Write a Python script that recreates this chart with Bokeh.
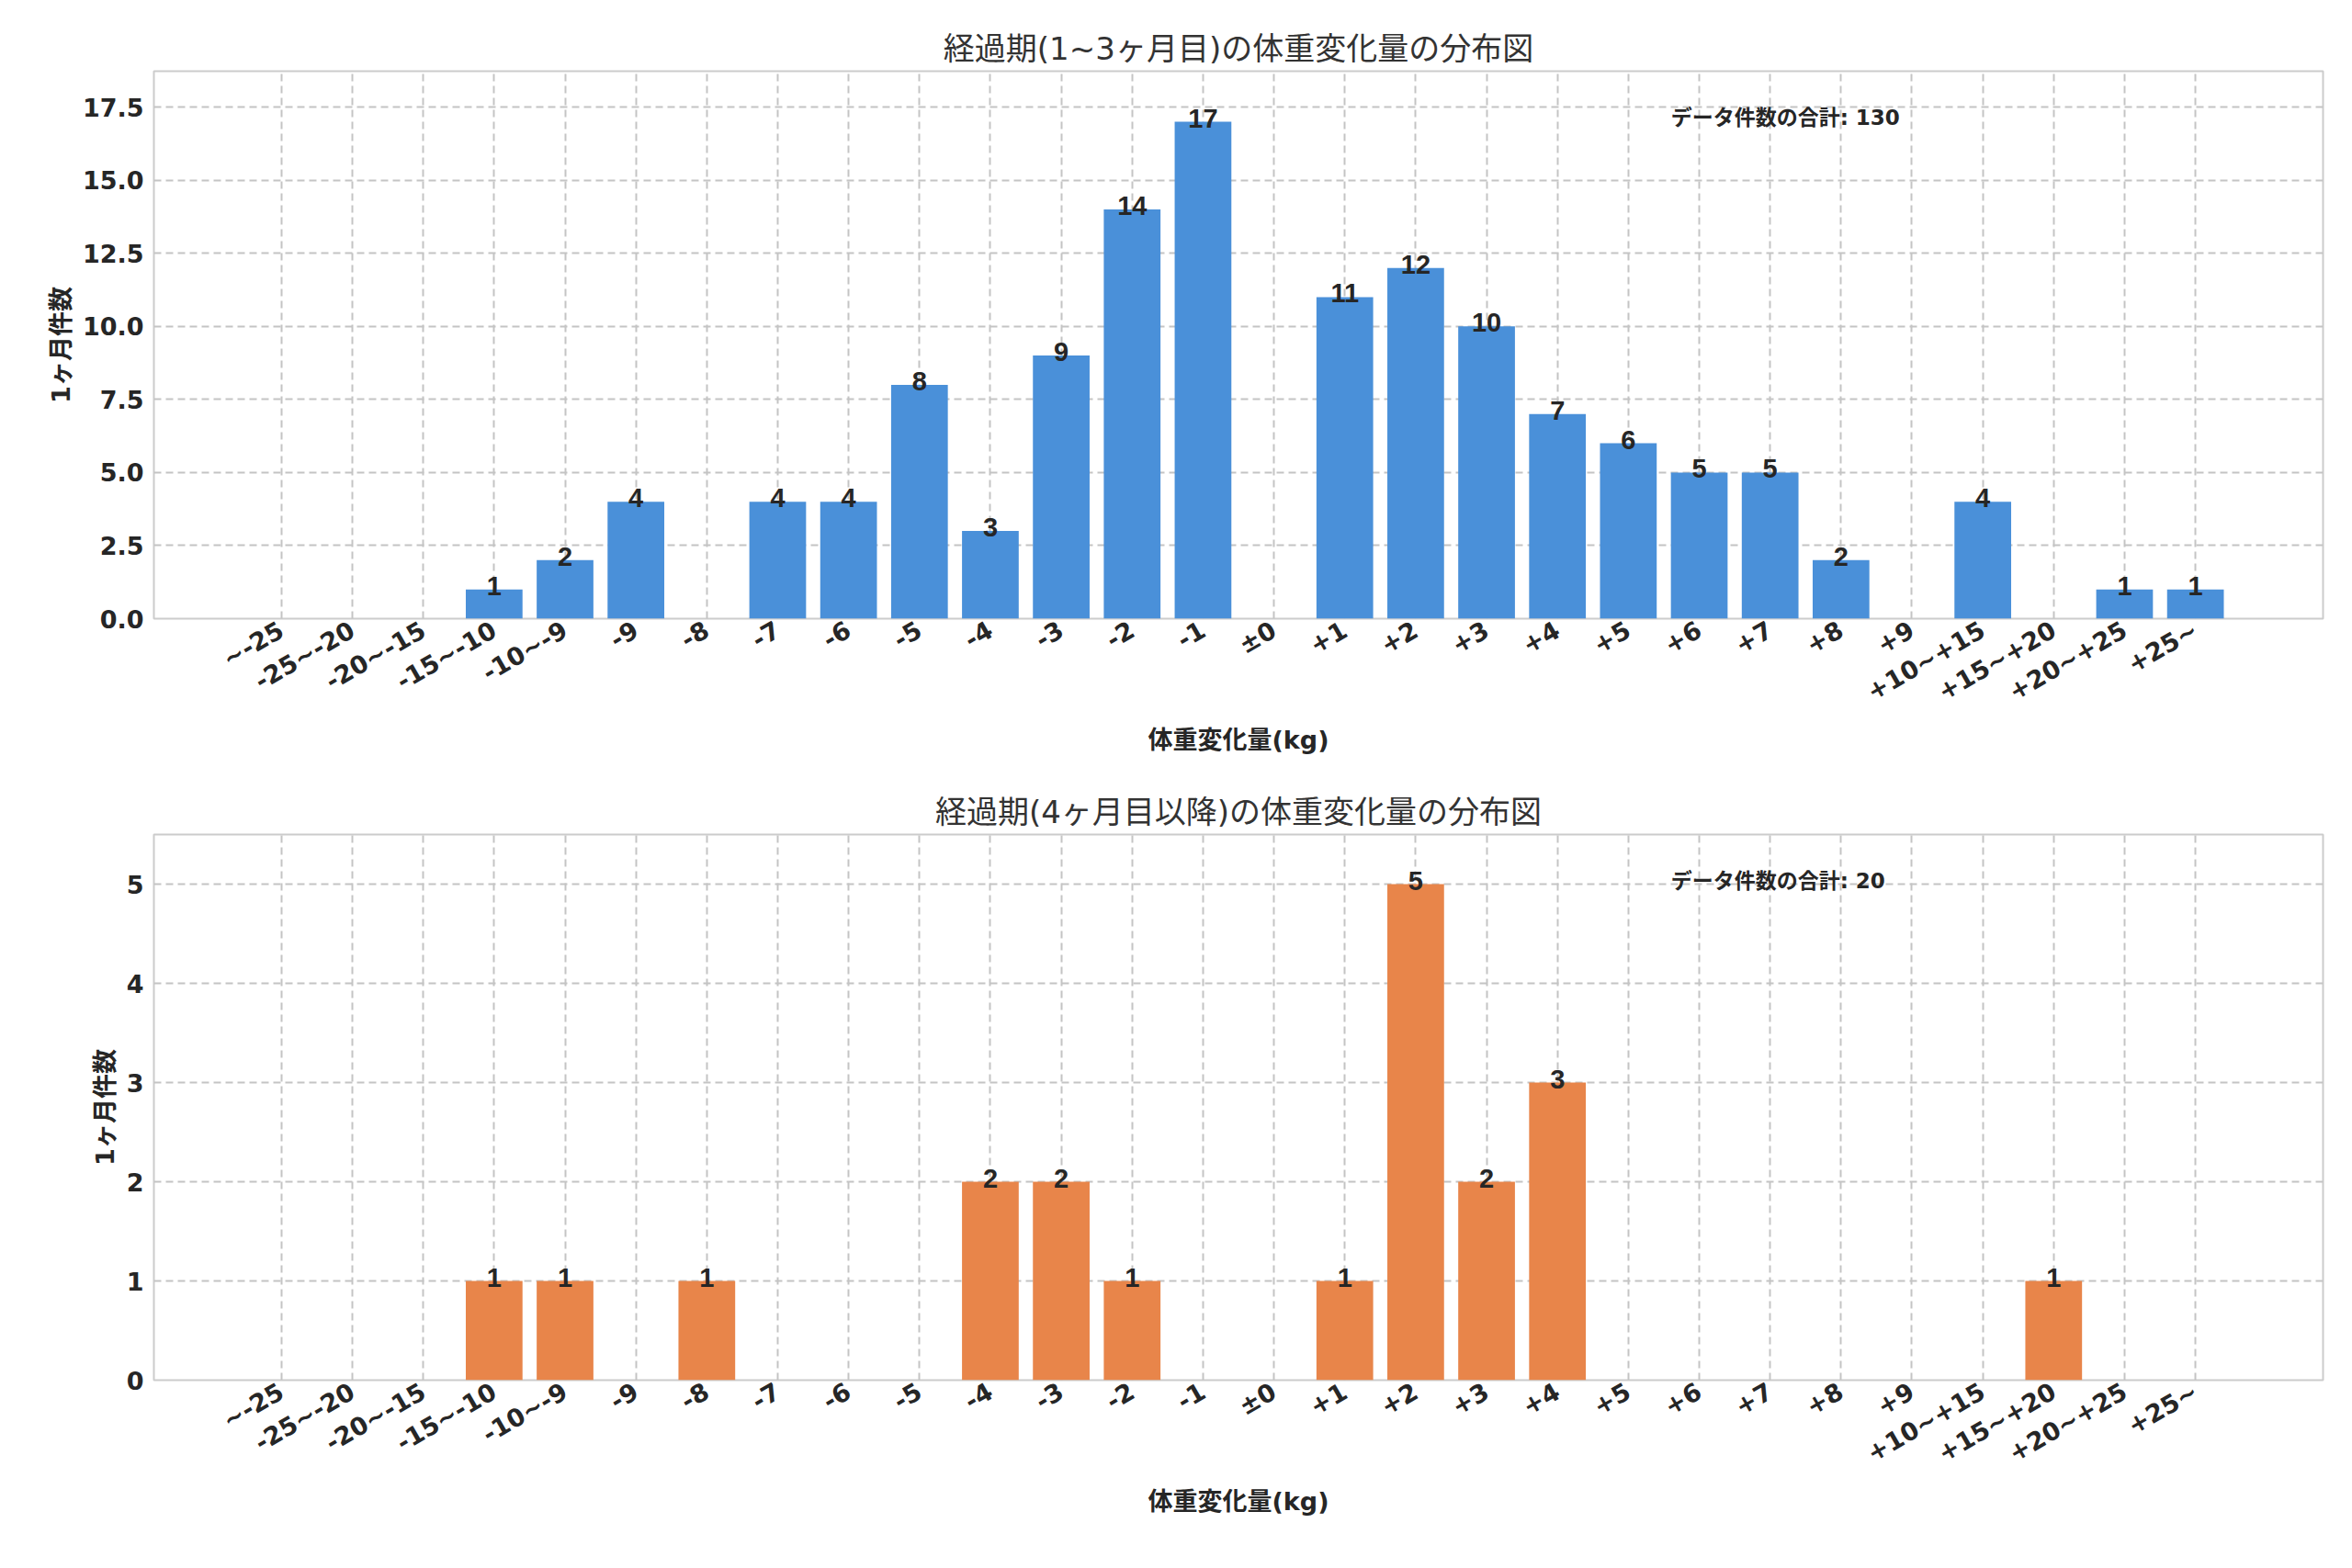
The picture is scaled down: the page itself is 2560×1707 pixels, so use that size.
import math
from bokeh.plotting import figure
from bokeh.layouts import column
from bokeh.models import Range1d, FixedTicker, Label, ColumnDataSource
from bokeh.embed import file_html
from bokeh.resources import INLINE

categories = ["~-25", "-25~-20", "-20~-15", "-15~-10", "-10~-9", "-9", "-8", "-7", "-6", "-5",
              "-4", "-3", "-2", "-1", "±0", "+1", "+2", "+3", "+4", "+5", "+6", "+7", "+8", "+9",
              "+10~+15", "+15~+20", "+20~+25", "+25~"]
counts_top = [0, 0, 0, 1, 2, 4, 0, 4, 4, 8, 3, 9, 14, 17, 0, 11, 12, 10, 7, 6, 5, 5, 2, 0, 4, 0, 1, 1]
counts_bot = [0, 0, 0, 1, 1, 0, 1, 0, 0, 0, 2, 2, 1, 0, 0, 1, 5, 2, 3, 0, 0, 0, 0, 0, 0, 1, 0, 0]
titles = ["経過期(1~3ヶ月目)の体重変化量の分布図", "経過期(4ヶ月目以降)の体重変化量の分布図"]
totals = [130, 20]
colors = ["#4A90D9", "#E8854A"]
FONT = "'DejaVu Sans', 'Noto Sans CJK JP', sans-serif"

def make(counts, title, total, color, ymax, yticks, fmt, top_b, bot_b, h):
    p = figure(width=2544, height=h, output_backend="svg", toolbar_location=None,
               x_range=Range1d(-1.8, 28.8), y_range=Range1d(0, ymax),
               min_border_left=167, min_border_right=16, min_border_top=top_b,
               min_border_bottom=bot_b)
    p.title.text = title
    p.title.align = "center"
    p.title.text_font = FONT
    p.title.text_font_size = "34px"
    p.title.text_font_style = "normal"
    p.title.text_color = "#333333"
    xs = list(range(len(categories)))
    src = ColumnDataSource(dict(x=xs, top=counts, lab=[str(c) if c > 0 else "" for c in counts],
                                ly=[c for c in counts]))
    p.vbar(x="x", top="top", width=0.8, source=src, color=color, line_color=None)
    p.text(x="x", y="ly", text="lab", source=src, text_align="center", text_baseline="bottom",
           text_font_size="29px", text_font_style="bold", text_color="#262626", y_offset=6)
    p.xaxis.ticker = FixedTicker(ticks=xs)
    p.xaxis.major_label_overrides = {i: c for i, c in enumerate(categories)}
    p.xaxis.major_label_orientation = math.pi / 6
    p.yaxis.ticker = FixedTicker(ticks=yticks)
    p.yaxis.major_label_overrides = {t: fmt(t) for t in yticks}
    for ax in (p.xaxis, p.yaxis):
        ax.major_label_text_font_size = "27px"
        ax.major_label_text_font_style = "bold"
        ax.major_label_text_font = FONT
        ax.major_label_text_color = "#262626"
        ax.axis_line_color = None
        ax.major_tick_line_color = None
        ax.minor_tick_line_color = None
        ax.axis_label_text_font = FONT
        ax.axis_label_text_font_size = "27px"
        ax.axis_label_text_font_style = "bold"
        ax.axis_label_text_color = "#262626"
    p.xaxis.major_label_standoff = 4
    p.xaxis.axis_label = "体重変化量(kg)"
    p.yaxis.axis_label = "1ヶ月件数"
    p.grid.grid_line_color = "#c4c4c4"
    p.grid.grid_line_dash = "8 5"
    p.grid.grid_line_width = 2
    p.outline_line_color = "#cccccc"
    p.outline_line_width = 2
    p.add_layout(Label(x=19.6, y=ymax * 0.915, text=f"データ件数の合計: {total}",
                       text_font=FONT, text_font_size="23px", text_font_style="bold",
                       text_color="#262626", text_baseline="middle"))
    return p

p1 = make(counts_top, titles[0], totals[0], colors[0], 18.73,
          [0, 2.5, 5, 7.5, 10, 12.5, 15, 17.5], lambda t: f"{t:.1f}", 77, 172, 845)
p2 = make(counts_bot, titles[1], totals[1], colors[1], 5.5,
          [0, 1, 2, 3, 4, 5], lambda t: str(int(t)), 63, 188, 845)
layout = column(p1, p2, spacing=0)
open("out.html", "w").write(file_html(layout, INLINE))
